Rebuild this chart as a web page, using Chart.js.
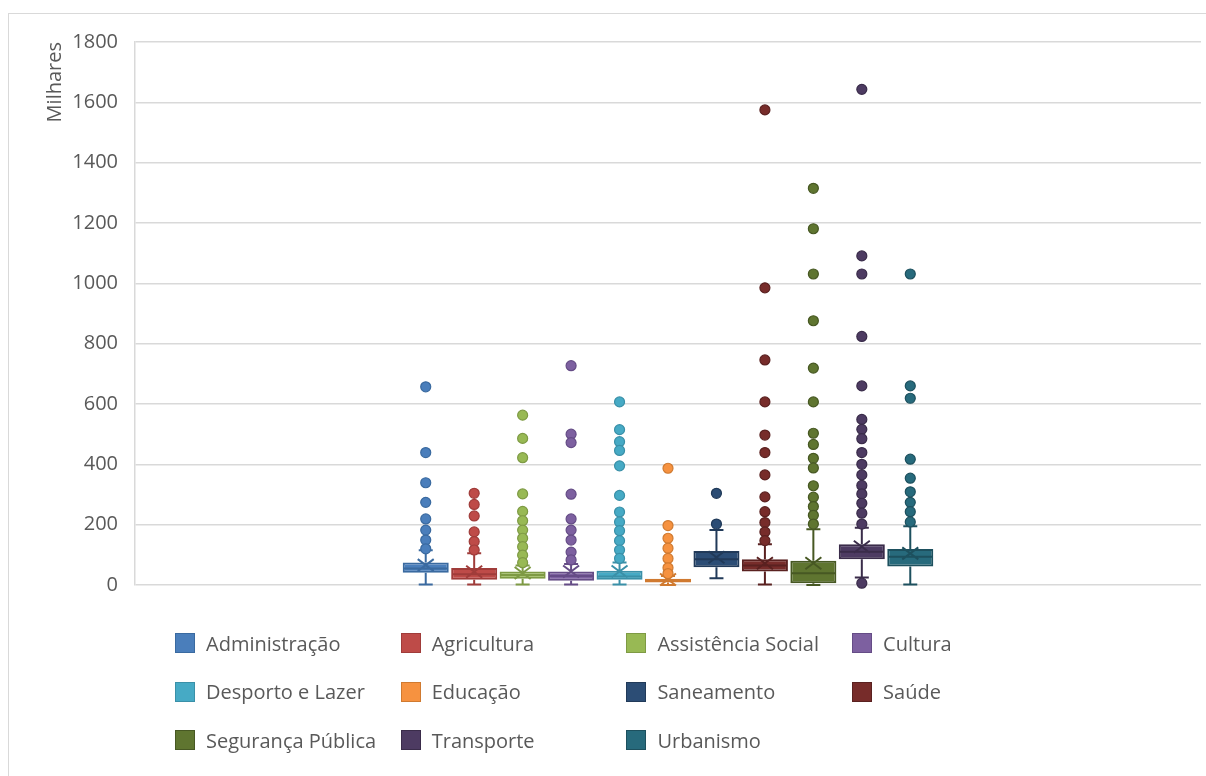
<!DOCTYPE html>
<html>
<head>
<meta charset="utf-8">
<script src="https://cdn.jsdelivr.net/npm/chart.js@4.4.1/dist/chart.umd.min.js"></script>
<style>
  body { margin: 0; background: #fff; }
  #wrap { position: relative; width: 1206px; height: 776px; overflow: hidden; }
  #frame { position: absolute; left: 8px; top: 13px; width: 1220px; height: 800px; border: 1px solid #d9d9d9; box-sizing: border-box; }
  canvas { position: absolute; left: 0; top: 0; }
  #legend { position: absolute; left: 0; top: 0; font-family: "Open Sans", sans-serif; font-size: 20px; color: #595959; }
  .item { position: absolute; display: flex; align-items: center; white-space: nowrap; }
  .sw { width: 18px; height: 18px; border: 1.5px solid; margin-right: 11px; }
</style>
</head>
<body>
<div id="wrap">
  <div id="frame"></div>
  <canvas id="myChart" width="1206" height="776"></canvas>
  <div id="legend"></div>
</div>
<script>
const names = ['Administração', 'Agricultura', 'Assistência Social', 'Cultura', 'Desporto e Lazer',
    'Educação', 'Saneamento', 'Saúde', 'Segurança Pública', 'Transporte', 'Urbanismo'];

// box statistics, in milhares
const whiskerLow = [2, 2, 2, 2, 2, 0, 22, 2, 0, 25, 2];
const q1 = [41, 17, 21, 14, 17, 8, 59, 45, 6, 85, 61];
const median = [55, 36, 33, 30, 28, 14, 85, 65, 39, 110, 94];
const q3 = [75, 56, 45, 45, 47, 21, 113, 85, 80, 135, 119];
const whiskerHigh = [115, 105, 65, 70, 75, 30, 182, 135, 185, 190, 195];
const mean = [66, 44, 40, 45, 45, 18, 92, 72, 72, 127, 105];

const outliers = [
    [657, 439, 339, 274, 219, 182, 149, 120],
    [304, 267, 229, 176, 144, 116],
    [563, 486, 422, 302, 244, 213, 182, 155, 127, 99, 74],
    [727, 500, 472, 301, 219, 182, 149, 109, 83],
    [607, 515, 475, 446, 395, 297, 242, 209, 180, 147, 116, 88],
    [387, 197, 155, 122, 88, 57, 38],
    [304, 202],
    [1575, 985, 746, 607, 497, 439, 365, 292, 243, 207, 176, 147],
    [1315, 1181, 1031, 876, 719, 607, 503, 466, 420, 388, 329, 291, 260, 231, 202],
    [1643, 1091, 1031, 824, 660, 549, 516, 485, 439, 400, 365, 330, 302, 271, 238, 202, 6],
    [1031, 660, 619, 417, 354, 309, 274, 243, 209]
];

const fills = ['#4A7EBB', '#BE4B48', '#98B954', '#7D60A0', '#46AAC5', '#F69240',
    '#2C4D75', '#772C2A', '#5F7530', '#4D3B62', '#276A7C'];
const strokes = ['#3A6AA0', '#A03C3A', '#7E9A44', '#654C86', '#3A90A8', '#D07A30',
    '#213A59', '#5A2120', '#475823', '#3A2C4A', '#1D505E'];

const datasets = names.map((n, i) => ({
    label: n,
    data: [[q1[i], q3[i]]],
    backgroundColor: fills[i],
    borderColor: strokes[i],
    borderWidth: 2,
    borderSkipped: false,
    categoryPercentage: 0.5,
    barPercentage: 0.95
}));

// whiskers, median, mean marker and outlier points
const boxExtras = {
    id: 'boxExtras',
    afterDatasetsDraw(chart) {
        const ctx = chart.ctx;
        const y = chart.scales.y;
        chart.data.datasets.forEach((ds, i) => {
            const bar = chart.getDatasetMeta(i).data[0];
            const x = bar.x, half = bar.width / 2;
            ctx.save();
            ctx.strokeStyle = strokes[i];
            ctx.lineWidth = 2;
            ctx.beginPath();
            // whiskers
            ctx.moveTo(x, y.getPixelForValue(q3[i]));
            ctx.lineTo(x, y.getPixelForValue(whiskerHigh[i]));
            ctx.moveTo(x - 7, y.getPixelForValue(whiskerHigh[i]));
            ctx.lineTo(x + 7, y.getPixelForValue(whiskerHigh[i]));
            ctx.moveTo(x, y.getPixelForValue(q1[i]));
            ctx.lineTo(x, y.getPixelForValue(whiskerLow[i]));
            ctx.moveTo(x - 7, y.getPixelForValue(whiskerLow[i]));
            ctx.lineTo(x + 7, y.getPixelForValue(whiskerLow[i]));
            // median
            ctx.moveTo(x - half + 1, y.getPixelForValue(median[i]));
            ctx.lineTo(x + half - 1, y.getPixelForValue(median[i]));
            // mean X
            const my = y.getPixelForValue(mean[i]);
            ctx.moveTo(x - 8, my - 6);
            ctx.lineTo(x + 8, my + 6);
            ctx.moveTo(x + 8, my - 6);
            ctx.lineTo(x - 8, my + 6);
            ctx.stroke();
            // outliers
            ctx.fillStyle = fills[i];
            ctx.lineWidth = 1.2;
            outliers[i].forEach(v => {
                ctx.beginPath();
                ctx.arc(x, y.getPixelForValue(v), 5, 0, Math.PI * 2);
                ctx.fill();
                ctx.stroke();
            });
            ctx.restore();
        });
    }
};

const config = {
    type: 'bar',
    data: { labels: [''], datasets: datasets },
    options: {
        responsive: false,
        animation: false,
        layout: { padding: { left: 40, top: 42, right: 5, bottom: 191 } },
        plugins: { legend: { display: false }, tooltip: { enabled: false } },
        scales: {
            x: { display: false },
            y: {
                min: 0,
                max: 1800,
                afterFit: (s) => { s.width = 95; },
                ticks: { stepSize: 200, color: '#595959', padding: 17,
                    callback: (v) => String(v),
                    font: { family: 'Open Sans', size: 20 } },
                grid: { color: '#d9d9d9', lineWidth: 1.5, drawTicks: false },
                border: { display: true, color: '#d9d9d9', width: 1.5 },
                title: { display: true, text: 'Milhares', align: 'end', color: '#595959',
                    padding: { top: 3, bottom: 0 },
                    font: { family: 'Open Sans', size: 20 } }
            }
        }
    },
    plugins: [boxExtras]
};

const myChart = new Chart(document.getElementById('myChart'), config);

// legend in 4 columns
const legend = document.getElementById('legend');
names.forEach((n, i) => {
    const col = i % 4, row = Math.floor(i / 4);
    const el = document.createElement('div');
    el.className = 'item';
    el.style.left = (175 + col * 225.7) + 'px';
    el.style.top = (643 + row * 48.5 - 15) + 'px';
    el.style.height = '30px';
    el.innerHTML = '<span class="sw" style="background:' + fills[i] + ';border-color:' + strokes[i] + '"></span>' + n;
    legend.appendChild(el);
});
</script>
</body>
</html>
